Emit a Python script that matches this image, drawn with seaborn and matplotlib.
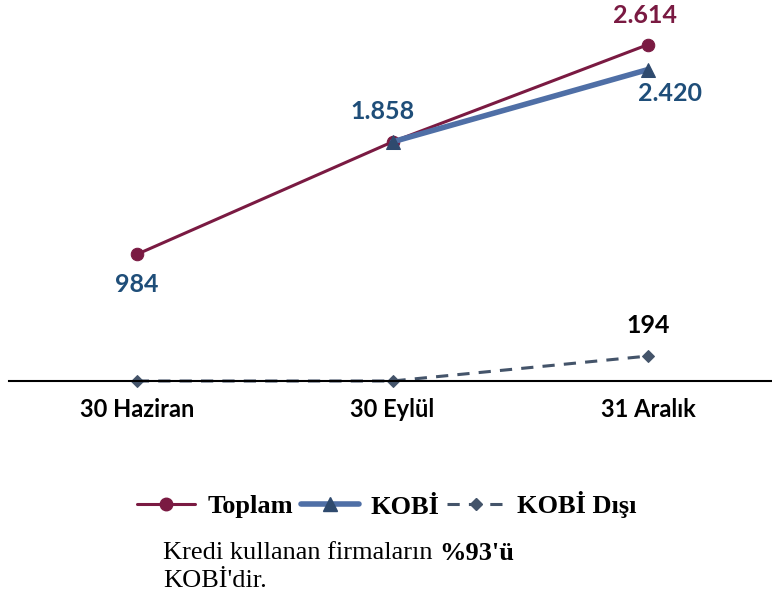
import numpy as np
import pandas as pd
import seaborn as sns
import matplotlib.pyplot as plt
from matplotlib.lines import Line2D

# data
donemler = ['30 Haziran', '30 Eylül', '31 Aralık']
toplam = [984, 1858, 2614]
kobi = [np.nan, 1858, 2420]
kobi_disi = [0, 0, 194]

c_toplam = '#7A1A42'
c_kobi = '#4F6FA6'
c_kobi_mk = '#2F4A6E'
c_disi = '#44546A'
c_lbl_blue = '#1F4E79'

sns.set_style('white')
plt.rcParams['font.family'] = ['Lato', 'DejaVu Sans']
plt.rcParams['text.color'] = 'black'
plt.rcParams['xtick.color'] = 'black'

df = pd.DataFrame({'donem': donemler, 'Toplam': toplam, 'KOBİ': kobi, 'KOBİ Dışı': kobi_disi})
df['x'] = range(len(df))

fig = plt.figure(figsize=(7.72, 6.02), dpi=100)
ax = fig.add_axes([9 / 772, (602 - 381) / 602, 767 / 772, 381 / 602])

sns.lineplot(data=df, x='x', y='Toplam', ax=ax, color=c_toplam, lw=2.2,
             marker='o', markersize=9, markeredgecolor=c_toplam, clip_on=False)
sns.lineplot(data=df.dropna(), x='x', y='KOBİ', ax=ax, color=c_kobi, lw=4,
             marker='^', markersize=10, markerfacecolor=c_kobi_mk,
             markeredgecolor=c_kobi_mk, clip_on=False)
sns.lineplot(data=df, x='x', y='KOBİ Dışı', ax=ax, color=c_disi, lw=2.2,
             marker='D', markersize=6, markeredgecolor=c_disi, clip_on=False)
ax.lines[-1].set_linestyle((0, (4, 3)))

ax.set_xlim(-0.5, 2.5)
ax.set_ylim(0, 2960)
ax.set_xticks(df['x'])
ax.set_xticklabels(donemler, fontsize=17, fontweight='bold', color='black')
ax.tick_params(axis='x', length=0, pad=12)
ax.set_yticks([])
ax.set_xlabel('')
ax.set_ylabel('')
for s in ['top', 'left', 'right']:
    ax.spines[s].set_visible(False)
ax.spines['bottom'].set_color('black')
ax.spines['bottom'].set_linewidth(1.5)

fmt = lambda v: f'{v:,}'.replace(',', '.')
lbl = dict(fontsize=18, fontweight='bold', ha='center', va='center')
ax.annotate(fmt(toplam[0]), (0, toplam[0]), xytext=(0, -22), textcoords='offset points', color=c_lbl_blue, **lbl)
ax.annotate(fmt(toplam[1]), (1, toplam[1]), xytext=(-7, 22), textcoords='offset points', color=c_lbl_blue, **lbl)
ax.annotate(fmt(toplam[2]), (2, toplam[2]), xytext=(-2, 21), textcoords='offset points', color=c_toplam, **lbl)
ax.annotate(fmt(kobi[2]), (2, kobi[2]), xytext=(16, -17), textcoords='offset points', color=c_lbl_blue, **lbl)
ax.annotate(fmt(kobi_disi[2]), (2, kobi_disi[2]), xytext=(0, 22), textcoords='offset points', color='black', **lbl)

handles = [
    Line2D([], [], color=c_toplam, lw=2.2, marker='o', markersize=9),
    Line2D([], [], color=c_kobi, lw=4, marker='^', markersize=10,
           markerfacecolor=c_kobi_mk, markeredgecolor=c_kobi_mk),
    Line2D([], [], color=c_disi, lw=2.2, ls=(0, (4, 3)), marker='D', markersize=6),
]
fig.legend(handles, ['Toplam', 'KOBİ', 'KOBİ Dışı'], loc='center', bbox_to_anchor=(387 / 772, 1 - 505 / 602),
           ncol=3, frameon=False, handlelength=2.2, columnspacing=0.3, handletextpad=0.45,
           labelcolor='black', prop={'family': 'Liberation Serif', 'weight': 'bold', 'size': 19})

t1 = fig.text(163 / 772, 1 - 553 / 602, 'Kredi kullanan firmaların ', family='Liberation Serif',
              fontsize=19, va='center', ha='left', color='black')
fig.canvas.draw()
bb = t1.get_window_extent()
fig.text(bb.x1 / fig.bbox.width, 1 - 553 / 602, "%93'ü", family='Liberation Serif', fontweight='bold',
         fontsize=19, va='center', ha='left', color='black')
fig.text(163 / 772, 1 - 581 / 602, "KOBİ'dir.", family='Liberation Serif',
         fontsize=19, va='center', ha='left', color='black')

fig.savefig('out.png', dpi=100)
